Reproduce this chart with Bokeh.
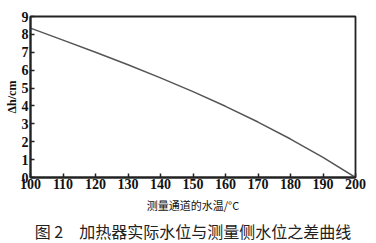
from bokeh.plotting import figure
from bokeh.embed import file_html
from bokeh.resources import INLINE
from bokeh.models import Range1d, Title, FixedTicker

temps = [100, 110, 120, 130, 140, 150, 160, 170, 180, 190, 200]
dh = [8.35, 7.68, 7.00, 6.30, 5.57, 4.80, 3.98, 3.10, 2.15, 1.12, 0.00]
xticks = [100, 110, 120, 130, 140, 150, 160, 170, 180, 190, 200]
yticks = [0, 1, 2, 3, 4, 5, 6, 7, 8, 9]

p = figure(width=376, height=243, output_backend="svg", toolbar_location=None,
           x_range=Range1d(100, 200), y_range=Range1d(0, 9))
p.min_border_left = 30
p.min_border_right = 21
p.min_border_top = 16
p.min_border_bottom = 10
p.background_fill_color = "white"
p.border_fill_color = "white"
p.outline_line_color = "#222222"
p.outline_line_width = 1.8
p.grid.visible = False

p.line(temps, dh, line_color="#555555", line_width=1.5)

for ax in (p.xaxis, p.yaxis):
    ax.major_tick_in = 4
    ax.major_tick_out = 0
    ax.minor_tick_in = 0
    ax.minor_tick_out = 0
    ax.axis_line_width = 2
    ax.axis_line_color = "#222222"
    ax.major_tick_line_color = "#222222"
    ax.major_tick_line_width = 1.5
    ax.major_label_text_font = "Liberation Serif"
    ax.major_label_text_font_style = "bold"
    ax.major_label_text_font_size = "14px"
    ax.major_label_text_color = "#111111"

p.xaxis.ticker = FixedTicker(ticks=xticks)
p.yaxis.ticker = FixedTicker(ticks=yticks)
p.xaxis.major_label_standoff = 1
p.yaxis.major_label_standoff = 2

p.xaxis.axis_label = "测量通道的水温/°C"
p.xaxis.axis_label_text_font = "Noto Sans CJK SC"
p.xaxis.axis_label_text_font_style = "normal"
p.xaxis.axis_label_text_font_size = "11px"
p.xaxis.axis_label_standoff = 5
p.xaxis.axis_label_text_color = "#111111"

p.yaxis.axis_label = "Δh/cm"
p.yaxis.axis_label_text_font = "Liberation Serif"
p.yaxis.axis_label_text_font_style = "bold"
p.yaxis.axis_label_text_font_size = "12px"
p.yaxis.axis_label_standoff = 0
p.yaxis.axis_label_text_color = "#111111"

cap = Title(text="图 2　加热器实际水位与测量侧水位之差曲线", align="center",
            text_font="Noto Sans CJK SC", text_font_style="normal",
            text_font_size="16px", text_color="#222222", offset=0, standoff=2)
p.add_layout(cap, "below")

open("out.html", "w").write(file_html(p, INLINE))
